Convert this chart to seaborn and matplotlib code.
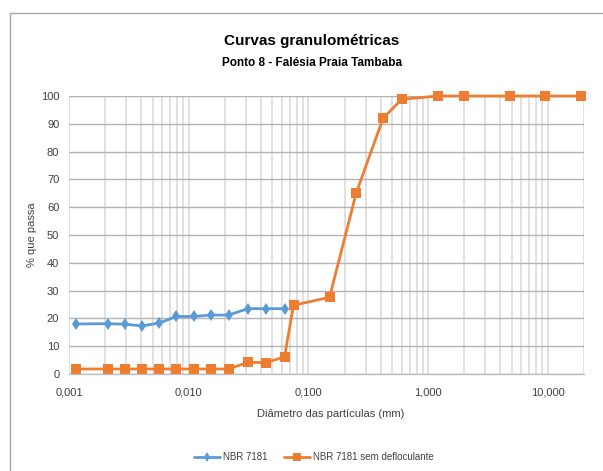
import matplotlib
matplotlib.use("Agg")
import matplotlib.pyplot as plt
import matplotlib.patches as mpatches
from matplotlib.ticker import FixedLocator, FixedFormatter, LogLocator, NullFormatter
import numpy as np
import pandas as pd
import seaborn as sns

# Grain-size distribution data (diameter in mm, percent passing)
diam_sed = [0.00114, 0.0021, 0.00294, 0.00406, 0.00565, 0.0079,
            0.0111, 0.0152, 0.0215, 0.0312, 0.0444, 0.0631]
diam_sieve = [0.075, 0.15, 0.25, 0.42, 0.6, 1.2, 2.0, 4.8, 9.5, 19.0]

pass_nbr = [18.0, 18.1, 17.9, 17.3, 18.3, 20.7, 20.7, 21.2, 21.2, 23.5, 23.5, 23.5]
pass_nbr_sem = [1.8, 1.8, 1.8, 1.8, 1.8, 1.8, 1.8, 1.8, 1.8, 4.2, 4.1, 6.2,
                24.7, 27.6, 65.0, 92.0, 98.8, 100.0, 100.0, 100.0, 100.0, 100.0]

series_names = ["NBR 7181", "NBR 7181 sem defloculante"]
x_ticks = [0.001, 0.01, 0.1, 1, 10]
x_tick_labels = ["0,001", "0,010", "0,100", "1,000", "10,000"]
y_ticks = list(range(0, 101, 10))

title = "Curvas granulométricas"
subtitle = "Ponto 8 - Falésia Praia Tambaba"
x_label = "Diâmetro das partículas (mm)"
y_label = "% que passa"

df = pd.concat([
    pd.DataFrame({"d": diam_sed, "p": pass_nbr, "serie": series_names[0]}),
    pd.DataFrame({"d": diam_sed + diam_sieve, "p": pass_nbr_sem, "serie": series_names[1]}),
], ignore_index=True)

sns.set_theme(style="white")
plt.rcParams["font.family"] = ["Liberation Sans", "DejaVu Sans"]

W, H = 603, 471
fig = plt.figure(figsize=(W / 100, H / 100), dpi=100)
fig.patch.set_facecolor("white")

# outer chart border
fig.patches.append(mpatches.Rectangle((10 / W, -0.1), 1.2, (H - 13) / H + 0.1,
                                      transform=fig.transFigure, fill=False,
                                      edgecolor="#a6a6a6", linewidth=1.0))

ax = fig.add_axes([69 / W, 1 - 374 / H, (584 - 69) / W, (374 - 96) / H])

palette = {series_names[0]: "#5b9bd5", series_names[1]: "#ed7d31"}
markers = {series_names[0]: "d", series_names[1]: "s"}

sns.lineplot(data=df, x="d", y="p", hue="serie", style="serie",
             markers=markers, dashes=False, palette=palette,
             linewidth=2.0, markersize=6.5, markeredgewidth=0,
             sort=False, estimator=None, ax=ax, zorder=3)
for ln in ax.lines:
    ln.set_clip_on(False)

ax.set_xscale("log")
ax.set_xlim(0.001, 20)
ax.set_ylim(0, 100)

ax.xaxis.set_major_locator(FixedLocator(x_ticks))
ax.xaxis.set_major_formatter(FixedFormatter(x_tick_labels))
ax.xaxis.set_minor_locator(LogLocator(base=10, subs=np.arange(2, 10), numticks=20))
ax.xaxis.set_minor_formatter(NullFormatter())
ax.set_yticks(y_ticks)

ax.grid(True, which="major", axis="y", color="#b3b3b3", linewidth=1.0, zorder=0)
ax.grid(True, which="both", axis="x", color="#dcdcdc", linewidth=1.2, zorder=0)
ax.set_axisbelow(True)

for s in ["top", "right", "left"]:
    ax.spines[s].set_visible(False)
ax.spines["bottom"].set_color("#bfbfbf")
ax.spines["bottom"].set_linewidth(1.0)

ax.tick_params(axis="both", which="both", length=0, labelsize=8, colors="#404040")
ax.tick_params(axis="x", pad=10)
ax.tick_params(axis="y", pad=7)

ax.set_xlabel(x_label, fontsize=8, color="#404040")
ax.set_ylabel(y_label, fontsize=8, color="#404040")
ax.xaxis.set_label_coords((331 - 69) / 515, (374 - 414) / 278)
ax.yaxis.set_label_coords((32 - 69) / 515, 0.5)
ax.xaxis.label.set_va("center")
ax.yaxis.label.set_va("center")

fig.text(312 / W, 1 - 41 / H, title, ha="center", va="center",
         fontsize=11, fontweight="bold", color="#000000")
fig.text(312 / W, 1 - 63 / H, subtitle, ha="center", va="center",
         fontsize=8.5, fontweight="bold", color="#000000")

handles, labels = ax.get_legend_handles_labels()
ax.legend(handles, labels, loc="center", bbox_to_anchor=(314 / W, 1 - 457 / H),
          bbox_transform=fig.transFigure, ncol=2, frameon=False, fontsize=7,
          handlelength=2.7, columnspacing=1.7, handletextpad=0.3,
          labelcolor="#404040", markerscale=0.8)

fig.savefig("out.png", dpi=100)
